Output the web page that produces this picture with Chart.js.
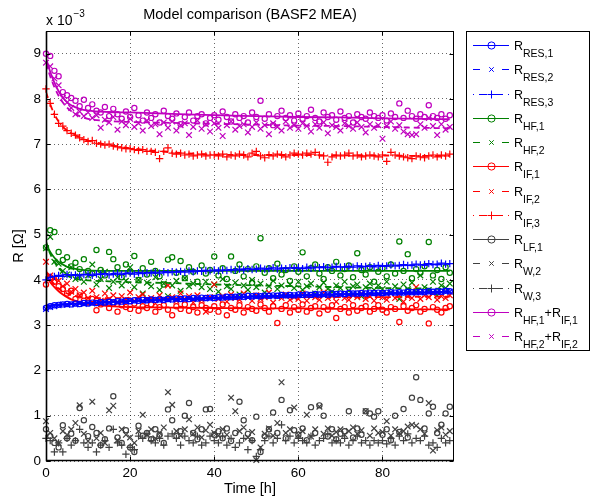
<!DOCTYPE html>
<html>
<head>
<meta charset="utf-8">
<script src="https://cdn.jsdelivr.net/npm/chart.js@4.4.1/dist/chart.umd.min.js"></script>
<style>
  html, body { margin: 0; padding: 0; background: #fff; }
  #wrap { position: relative; width: 599px; height: 498px; }
</style>
</head>
<body>
<div id="wrap"><canvas id="chart" width="599" height="498"></canvas></div>
<script>
const FONT = '"Liberation Sans", Arial, Helvetica, sans-serif'

const chartTitle = 'Model comparison (BASF2 MEA)'
const xTitle = 'Time [h]'
const yTitle = 'R [\u03A9]'
const xTicks = [0, 20, 40, 60, 80]
const yTicks = [0, 1, 2, 3, 4, 5, 6, 7, 8, 9]

// measurement times [h]
const hours = [
  0, 1, 2, 3, 4, 5, 6, 7, 8, 9,
  10, 11, 12, 13, 14, 15, 16, 17, 18, 19,
  20, 21, 22, 23, 24, 25, 26, 27, 28, 29,
  30, 31, 32, 33, 34, 35, 36, 37, 38, 39,
  40, 41, 42, 43, 44, 45, 46, 47, 48, 49,
  50, 51, 52, 53, 54, 55, 56, 57, 58, 59,
  60, 61, 62, 63, 64, 65, 66, 67, 68, 69,
  70, 71, 72, 73, 74, 75, 76, 77, 78, 79,
  80, 81, 82, 83, 84, 85, 86, 87, 88, 89,
  90, 91, 92, 93, 94, 95, 96
]

// measured resistances (x 1e-3 Ohm)
const rRes1 = [
  3.38, 3.42, 3.44, 3.45, 3.46, 3.47, 3.46, 3.48, 3.47, 3.49,
  3.48, 3.50, 3.49, 3.51, 3.50, 3.52, 3.51, 3.53, 3.52, 3.54,
  3.53, 3.55, 3.54, 3.56, 3.55, 3.57, 3.56, 3.57, 3.56, 3.58,
  3.57, 3.59, 3.58, 3.59, 3.58, 3.60, 3.59, 3.61, 3.60, 3.61,
  3.60, 3.62, 3.61, 3.63, 3.62, 3.63, 3.64, 3.63, 3.65, 3.64,
  3.65, 3.64, 3.66, 3.65, 3.66, 3.65, 3.67, 3.66, 3.67, 3.66,
  3.68, 3.67, 3.68, 3.67, 3.69, 3.68, 3.69, 3.68, 3.70, 3.69,
  3.70, 3.69, 3.71, 3.70, 3.70, 3.71, 3.70, 3.72, 3.71, 3.72,
  3.71, 3.72, 3.73, 3.72, 3.73, 3.72, 3.74, 3.73, 3.73, 3.74,
  3.73, 3.75, 3.74, 3.75, 3.74, 3.76, 3.75
]
const rRes2 = [
  3.36, 3.40, 3.42, 3.44, 3.46, 3.45, 3.47, 3.46, 3.48, 3.47,
  3.49, 3.48, 3.50, 3.49, 3.51, 3.50, 3.52, 3.51, 3.53, 3.52,
  3.54, 3.53, 3.55, 3.54, 3.56, 3.55, 3.56, 3.55, 3.57, 3.56,
  3.58, 3.57, 3.58, 3.57, 3.59, 3.58, 3.60, 3.59, 3.60, 3.59,
  3.61, 3.60, 3.61, 3.62, 3.61, 3.63, 3.62, 3.63, 3.62, 3.64,
  3.63, 3.64, 3.65, 3.64, 3.65, 3.64, 3.66, 3.65, 3.66, 3.65,
  3.67, 3.66, 3.67, 3.66, 3.68, 3.67, 3.67, 3.68, 3.67, 3.69,
  3.68, 3.69, 3.68, 3.70, 3.69, 3.70, 3.69, 3.71, 3.70, 3.70,
  3.71, 3.70, 3.72, 3.71, 3.72, 3.71, 3.73, 3.72, 3.72, 3.73,
  3.72, 3.74, 3.73, 3.74, 3.73, 3.75, 3.74
]
const rRes3 = [
  4.00, 4.06, 4.08, 4.10, 4.08, 4.12, 4.10, 4.11, 4.09, 4.12,
  4.12, 4.10, 4.13, 4.12, 4.14, 4.11, 4.13, 4.15, 4.12, 4.14,
  4.15, 4.13, 4.16, 4.14, 4.16, 4.15, 4.17, 4.15, 4.18, 4.16,
  4.18, 4.17, 4.19, 4.17, 4.20, 4.18, 4.20, 4.19, 4.21, 4.20,
  4.22, 4.20, 4.22, 4.21, 4.23, 4.22, 4.24, 4.22, 4.25, 4.23,
  4.24, 4.26, 4.24, 4.25, 4.27, 4.24, 4.26, 4.25, 4.27, 4.26,
  4.27, 4.25, 4.28, 4.26, 4.28, 4.27, 4.29, 4.27, 4.28, 4.30,
  4.28, 4.29, 4.30, 4.28, 4.31, 4.29, 4.30, 4.31, 4.29, 4.32,
  4.30, 4.31, 4.33, 4.31, 4.32, 4.34, 4.32, 4.33, 4.35, 4.33,
  4.34, 4.36, 4.34, 4.35, 4.37, 4.35, 4.36
]
const rHf1 = [
  4.72, 5.10, 5.06, 4.62, 4.44, 4.50, 4.30, 4.38, 4.24, 4.46,
  4.20, 4.14, 4.66, 4.22, 4.10, 4.62, 4.46, 4.28, 4.06, 4.34,
  4.18, 4.53, 4.00, 4.26, 4.12, 4.40, 4.20, 4.08, 3.90, 4.45,
  4.50, 4.16, 4.42, 4.04, 4.28, 4.18, 3.96, 4.32, 4.14, 4.22,
  4.52, 4.10, 4.26, 4.02, 4.52, 4.20, 4.34, 4.08, 4.24, 3.94,
  4.30, 4.92, 4.16, 4.26, 4.04, 4.36, 4.12, 4.22, 3.98, 4.30,
  4.18, 4.61, 4.08, 4.26, 4.34, 4.14, 4.02, 4.28, 4.20, 4.40,
  4.10, 4.24, 4.32, 4.06, 4.59, 4.22, 4.12, 4.28, 3.96, 4.18,
  4.26, 4.08, 4.34, 4.14, 4.85, 4.20, 4.57, 4.04, 4.24, 4.16,
  4.30, 4.84, 4.10, 4.22, 4.02, 4.28, 4.16
]
const rHf2 = [
  4.70, 4.95, 4.40, 4.36, 4.20, 4.12, 4.28, 4.02, 4.08, 3.96,
  4.10, 4.34, 3.90, 4.02, 4.18, 3.82, 3.96, 4.06, 3.88, 3.98,
  4.28, 3.84, 4.00, 3.70, 3.94, 3.86, 4.06, 3.78, 3.92, 3.64,
  3.88, 3.98, 3.76, 4.04, 3.86, 3.92, 3.58, 3.84, 3.96, 3.80,
  3.90, 3.74, 4.02, 3.86, 3.80, 3.94, 3.68, 3.88, 3.78, 4.00,
  3.84, 3.92, 3.72, 3.86, 3.98, 3.80, 3.88, 3.66, 3.90, 3.82,
  3.96, 3.78, 3.86, 3.92, 3.70, 3.84, 3.94, 3.80, 3.74, 3.88,
  3.82, 3.96, 3.76, 3.86, 3.90, 3.64, 3.84, 3.92, 3.78, 3.88,
  3.80, 3.96, 3.72, 3.86, 3.58, 3.90, 3.80, 3.94, 3.74, 4.10,
  3.84, 3.78, 3.96, 3.66, 3.88, 3.82, 3.92
]
const rIf1 = [
  3.90, 4.06, 3.96, 3.86, 3.80, 3.70, 3.76, 3.58, 3.66, 3.54,
  3.50, 3.58, 3.33, 3.46, 3.52, 3.38, 3.48, 3.30, 3.44, 3.40,
  3.36, 3.48, 3.32, 3.42, 3.38, 3.46, 3.30, 3.40, 3.44, 3.34,
  3.22, 3.42, 3.36, 3.46, 3.32, 3.40, 3.28, 3.44, 3.38, 3.34,
  3.42, 3.30, 3.46, 3.22, 3.38, 3.34, 3.44, 3.28, 3.40, 3.36,
  3.32, 3.46, 3.38, 3.30, 3.42, 3.05, 3.36, 3.44, 3.28, 3.40,
  3.34, 3.46, 3.30, 3.38, 3.42, 3.26, 3.40, 3.34, 3.44, 3.16,
  3.36, 3.40, 3.28, 3.44, 3.32, 3.38, 3.42, 3.30, 3.36, 3.44,
  3.34, 3.28, 3.40, 3.36, 3.07, 3.42, 3.32, 3.38, 3.44, 3.30,
  3.36, 3.04, 3.40, 3.34, 3.28, 3.38, 3.42
]
const rIf2 = [
  4.40, 4.10, 4.02, 3.98, 3.86, 3.92, 3.74, 3.80, 3.66, 3.72,
  3.60, 3.76, 3.62, 3.54, 3.70, 3.58, 3.66, 3.50, 3.64, 3.56,
  3.72, 3.54, 3.62, 3.68, 3.56, 3.60, 3.48, 3.66, 3.58, 3.88,
  3.62, 3.54, 3.70, 3.58, 3.64, 3.50, 3.66, 3.56, 3.30, 3.62,
  3.90, 3.58, 3.64, 3.52, 3.68, 3.60, 3.56, 3.70, 3.62, 3.54,
  3.66, 3.58, 3.62, 3.72, 3.50, 3.64, 3.60, 3.68, 3.56, 3.62,
  3.58, 3.70, 3.54, 3.66, 3.62, 3.56, 3.72, 3.60, 3.64, 3.52,
  3.68, 3.60, 3.56, 3.66, 3.62, 3.70, 3.58, 3.64, 3.54, 3.68,
  3.62, 3.56, 3.70, 3.60, 3.66, 3.52, 3.64, 3.60, 3.84, 3.58,
  3.66, 3.62, 3.70, 3.56, 3.64, 3.60, 3.66
]
const rIf3 = [
  8.22, 7.90, 7.66, 7.46, 7.40, 7.30, 7.24, 7.20, 7.14, 7.10,
  7.06, 7.08, 7.02, 7.00, 6.98, 7.00, 6.96, 6.94, 6.92, 6.90,
  6.90, 6.88, 6.86, 6.88, 6.84, 6.84, 6.82, 6.68, 6.84, 6.92,
  6.80, 6.78, 6.80, 6.76, 6.78, 6.74, 6.76, 6.78, 6.74, 6.76,
  6.76, 6.74, 6.78, 6.72, 6.76, 6.74, 6.78, 6.76, 6.72, 6.80,
  6.84, 6.74, 6.70, 6.76, 6.74, 6.78, 6.76, 6.72, 6.76, 6.80,
  6.78, 6.76, 6.80, 6.78, 6.82, 6.76, 6.74, 6.60, 6.72, 6.76,
  6.74, 6.76, 6.80, 6.74, 6.76, 6.72, 6.74, 6.76, 6.74, 6.72,
  6.76, 6.62, 6.82, 6.76, 6.74, 6.72, 6.70, 6.68, 6.74, 6.72,
  6.70, 6.74, 6.76, 6.72, 6.76, 6.74, 6.78
]
const rLf1 = [
  0.70, 0.55, 0.40, 0.30, 0.79, 0.50, 0.60, 0.45, 1.17, 0.90,
  0.55, 0.75, 0.62, 0.35, 0.48, 0.72, 1.43, 0.52, 0.40, 0.68,
  0.30, 0.20, 0.78, 0.56, 0.62, 0.48, 0.70, 0.58, 0.40, 1.14,
  0.90, 0.55, 0.66, 1.00, 1.28, 0.62, 0.48, 0.70, 1.14, 1.15,
  0.58, 0.66, 0.50, 0.72, 0.44, 0.62, 1.31, 0.90, 0.60, 0.46,
  0.98, 0.20, 0.55, 0.70, 1.07, 0.62, 1.35, 0.50, 1.12, 0.68,
  0.58, 0.72, 0.46, 1.19, 0.62, 1.23, 1.00, 0.54, 0.70, 0.48,
  0.60, 0.66, 1.10, 0.52, 0.72, 0.58, 1.10, 1.05, 0.98, 1.10,
  0.58, 0.70, 0.46, 1.00, 0.64, 1.15, 0.52, 1.40, 1.85, 1.35,
  0.72, 1.05, 1.20, 0.62, 0.80, 1.05, 1.20
]
const rW2 = [
  0.88, 0.62, 0.50, 0.40, 0.66, 0.58, 0.70, 0.84, 1.23, 0.60,
  0.44, 1.31, 0.50, 0.62, 0.40, 1.12, 1.22, 0.46, 0.70, 0.58,
  0.52, 0.40, 0.66, 1.02, 0.58, 0.70, 0.50, 0.62, 0.74, 1.52,
  1.24, 0.66, 0.56, 0.70, 0.92, 0.60, 0.74, 0.52, 0.68, 0.80,
  0.62, 0.56, 0.70, 0.58, 1.40, 1.10, 0.66, 0.74, 0.52, 0.64,
  0.02, 0.30, 0.60, 0.72, 0.56, 0.84, 1.74, 0.62, 0.70, 1.18,
  0.58, 0.66, 1.02, 0.54, 0.70, 1.20, 0.60, 0.72, 0.56, 0.64,
  0.70, 0.58, 0.66, 0.74, 0.60, 0.68, 1.10, 0.56, 0.72, 0.62,
  0.64, 0.88, 0.56, 0.70, 0.62, 0.66, 0.76, 0.80, 0.78, 0.70,
  0.60, 1.28, 0.23, 0.68, 0.74, 0.58, 0.66
]
const rW3 = [
  0.50, 0.45, 0.20, 0.40, 0.20, 0.50, 0.35, 0.45, 0.70, 0.40,
  0.30, 0.40, 0.20, 0.35, 0.45, 0.30, 0.70, 0.40, 0.35, 0.15,
  0.30, 0.25, 0.55, 0.50, 0.60, 0.45, 0.40, 0.50, 0.35, 0.55,
  0.60, 0.50, 0.35, 0.55, 0.45, 0.40, 0.55, 0.35, 0.40, 0.55,
  0.45, 0.40, 0.55, 0.35, 0.50, 0.30, 0.40, 0.50, 0.25, 0.45,
  0.10, 0.25, 0.45, 0.55, 0.40, 0.50, 0.80, 0.45, 0.55, 0.40,
  0.50, 0.45, 0.40, 0.55, 0.35, 0.45, 0.50, 0.60, 0.40, 0.45,
  0.40, 0.50, 0.35, 0.45, 0.55, 0.40, 0.45, 0.35, 0.45, 0.40,
  0.45, 0.38, 0.50, 0.35, 0.55, 0.45, 0.60, 0.40, 0.50, 0.45,
  0.55, 0.35, 0.40, 0.30, 0.50, 0.40, 0.45
]
const rHfIf1 = [
  9.00, 8.95, 8.62, 8.50, 8.15, 8.08, 8.02, 7.96, 7.84, 7.98,
  7.80, 7.88, 7.74, 7.70, 7.82, 7.62, 7.78, 7.66, 7.56, 7.72,
  7.60, 7.80, 7.64, 7.52, 7.70, 7.58, 7.66, 7.48, 7.74, 7.62,
  7.56, 7.68, 7.44, 7.60, 7.70, 7.52, 7.62, 7.66, 7.46, 7.58,
  7.64, 7.54, 7.72, 7.60, 7.50, 7.66, 7.58, 7.62, 7.48, 7.70,
  7.60, 7.96, 7.56, 7.66, 7.42, 7.62, 7.74, 7.58, 7.64, 7.52,
  7.68, 7.56, 7.62, 7.76, 7.58, 7.50, 7.70, 7.60, 7.64, 7.54,
  7.72, 7.58, 7.62, 7.48, 7.66, 7.60, 7.56, 7.70, 7.62, 7.58,
  7.64, 7.52, 7.68, 7.60, 7.90, 7.58, 7.74, 7.62, 7.56, 7.66,
  7.60, 7.86, 7.62, 7.58, 7.66, 7.56, 7.64
]
const rHfIf2 = [
  8.80, 8.72, 8.45, 8.30, 8.02, 7.92, 7.80, 7.66, 7.72, 7.62,
  7.70, 7.58, 7.64, 7.36, 7.54, 7.48, 7.60, 7.32, 7.50, 7.42,
  7.56, 7.38, 7.46, 7.30, 7.52, 7.40, 7.44, 7.22, 7.48, 7.36,
  7.50, 7.30, 7.42, 7.46, 7.20, 7.38, 7.52, 7.34, 7.44, 7.28,
  7.46, 7.36, 7.18, 7.42, 7.50, 7.32, 7.40, 7.44, 7.26, 7.38,
  7.48, 7.34, 7.42, 7.22, 7.46, 7.38, 7.30, 7.50, 7.36, 7.42,
  7.34, 7.46, 7.40, 7.28, 7.44, 7.36, 7.48, 7.24, 7.42, 7.38,
  7.30, 7.46, 7.40, 7.34, 7.48, 7.38, 7.26, 7.44, 7.36, 7.42,
  7.12, 7.40, 7.50, 7.34, 7.42, 7.28, 7.22, 7.20, 7.22, 7.44,
  7.36, 7.58, 7.40, 7.20, 7.44, 7.32, 7.38
]

// model fits, sampled at fitHours
const fitHours = [0, 1, 2, 3, 4, 5, 6, 8, 10, 15, 20, 30, 40, 50, 60, 70, 80, 90, 96]
const fitRes1 = [3.42, 3.44, 3.45, 3.46, 3.46, 3.47, 3.47, 3.48, 3.49, 3.51, 3.53, 3.57, 3.60, 3.63, 3.66, 3.68, 3.70, 3.72, 3.74]
const fitRes2 = [3.38, 3.41, 3.43, 3.44, 3.45, 3.46, 3.47, 3.48, 3.49, 3.51, 3.53, 3.57, 3.60, 3.63, 3.66, 3.68, 3.70, 3.72, 3.74]
const fitRes3 = [4.02, 4.06, 4.08, 4.09, 4.10, 4.10, 4.11, 4.11, 4.12, 4.13, 4.15, 4.18, 4.21, 4.24, 4.27, 4.29, 4.31, 4.33, 4.35]
const fitHf1 = [4.80, 4.62, 4.49, 4.40, 4.34, 4.29, 4.26, 4.23, 4.21, 4.20, 4.20, 4.20, 4.20, 4.20, 4.20, 4.20, 4.20, 4.20, 4.20]
const fitHf2 = [4.85, 4.58, 4.40, 4.26, 4.17, 4.10, 4.06, 4.01, 3.99, 3.97, 3.95, 3.93, 3.90, 3.88, 3.86, 3.84, 3.82, 3.81, 3.80]
const fitIf1 = [4.10, 3.95, 3.84, 3.75, 3.68, 3.62, 3.57, 3.51, 3.47, 3.42, 3.40, 3.39, 3.38, 3.37, 3.37, 3.36, 3.36, 3.35, 3.35]
const fitIf2 = [4.20, 4.02, 3.90, 3.81, 3.75, 3.70, 3.67, 3.63, 3.61, 3.60, 3.60, 3.60, 3.61, 3.61, 3.62, 3.62, 3.62, 3.63, 3.63]
const fitIf3 = [8.15, 7.88, 7.66, 7.50, 7.38, 7.30, 7.24, 7.15, 7.08, 6.98, 6.91, 6.82, 6.77, 6.76, 6.76, 6.75, 6.75, 6.74, 6.74]
const fitHfIf1 = [8.90, 8.60, 8.36, 8.17, 8.03, 7.93, 7.86, 7.78, 7.74, 7.71, 7.70, 7.67, 7.64, 7.62, 7.60, 7.59, 7.57, 7.56, 7.55]
const fitHfIf2 = [8.80, 8.50, 8.26, 8.07, 7.92, 7.81, 7.73, 7.62, 7.56, 7.51, 7.49, 7.47, 7.45, 7.43, 7.41, 7.40, 7.38, 7.36, 7.35]

const legendSubs = ['RES,1', 'RES,2', 'RES,3', 'HF,1', 'HF,2', 'IF,1', 'IF,2', 'IF,3', 'LF,1', 'W,2', 'W,3', 'HF,1+IF,1', 'HF,2+IF,2']

const BLUE = '#0000ff'
const GREEN = '#008000'
const RED = '#ff0000'
const GRAY = '#404040'
const MAGENTA = '#bf00bf'
const SOLID = []
const DASHED = [6, 4]
const DASHDOT = [6, 3, 1, 3]

// one entry per legend row: measured data + (optional) fitted model
const series = [
  { data: rRes1, fit: fitRes1, color: BLUE, dash: SOLID, marker: 'circle' },
  { data: rRes2, fit: fitRes2, color: BLUE, dash: DASHED, marker: 'crossRot' },
  { data: rRes3, fit: fitRes3, color: BLUE, dash: DASHDOT, marker: 'cross' },
  { data: rHf1, fit: fitHf1, color: GREEN, dash: SOLID, marker: 'circle' },
  { data: rHf2, fit: fitHf2, color: GREEN, dash: DASHED, marker: 'crossRot' },
  { data: rIf1, fit: fitIf1, color: RED, dash: SOLID, marker: 'circle' },
  { data: rIf2, fit: fitIf2, color: RED, dash: DASHED, marker: 'crossRot' },
  { data: rIf3, fit: fitIf3, color: RED, dash: DASHDOT, marker: 'cross' },
  { data: rLf1, fit: null, color: GRAY, dash: SOLID, marker: 'circle' },
  { data: rW2, fit: null, color: GRAY, dash: DASHED, marker: 'crossRot' },
  { data: rW3, fit: null, color: GRAY, dash: DASHDOT, marker: 'cross' },
  { data: rHfIf1, fit: fitHfIf1, color: MAGENTA, dash: SOLID, marker: 'circle' },
  { data: rHfIf2, fit: fitHfIf2, color: MAGENTA, dash: DASHED, marker: 'crossRot' }
]

const markerRadius = { circle: 2.6, crossRot: 4, cross: 3.7 }
const toPoints = (xs, ys) => xs.map((x, i) => ({ x, y: ys[i] }))

function markerSet(s) {
  return {
    type: 'scatter',
    data: toPoints(hours, s.data),
    showLine: false,
    pointStyle: s.marker,
    pointRadius: markerRadius[s.marker],
    borderColor: s.color,
    backgroundColor: 'rgba(0,0,0,0)',
    borderWidth: 1.2,
    clip: false
  }
}

function fitSet(s) {
  return {
    type: 'line',
    data: toPoints(fitHours, s.fit),
    showLine: true,
    pointRadius: 0,
    borderColor: s.color,
    borderWidth: 1.8,
    borderDash: s.dash,
    cubicInterpolationMode: 'monotone',
    fill: false
  }
}

// first dataset ends up on top
const blueIdx = [2, 1, 0]
const restIdx = [7, 6, 5, 4, 3, 12, 11, 10, 9, 8]
const datasets = [
  ...blueIdx.map(i => markerSet(series[i])),
  ...series.filter(s => s.fit).map(fitSet),
  ...restIdx.map(i => markerSet(series[i]))
]

const framePlugin = {
  id: 'matlabFrame',
  afterDraw(chart) {
    const { ctx, chartArea: a, scales: { x, y } } = chart
    ctx.save()
    ctx.strokeStyle = '#000'
    ctx.lineWidth = 1
    ctx.setLineDash([])
    const L = Math.round(a.left) + 0.5
    const R = Math.round(a.right) - 0.5
    const T = Math.round(a.top) + 0.5
    const B = Math.round(a.bottom) - 0.5
    ctx.strokeRect(L, T, R - L, B - T)
    // heavier left and bottom axis lines
    ctx.beginPath()
    ctx.moveTo(L, T); ctx.lineTo(L, B); ctx.lineTo(R, B)
    ctx.lineWidth = 1.6
    ctx.stroke()

    ctx.lineWidth = 1
    ctx.beginPath()
    xTicks.forEach(v => {
      const px = Math.round(x.getPixelForValue(v)) + 0.5
      ctx.moveTo(px, B); ctx.lineTo(px, B - 4)
      ctx.moveTo(px, T); ctx.lineTo(px, T + 4)
    })
    yTicks.forEach(v => {
      const py = Math.round(y.getPixelForValue(v)) + 0.5
      ctx.moveTo(L, py); ctx.lineTo(L + 4, py)
      ctx.moveTo(R, py); ctx.lineTo(R - 4, py)
    })
    ctx.stroke()

    // title and exponent
    ctx.fillStyle = '#000'
    ctx.textBaseline = 'alphabetic'
    ctx.textAlign = 'center'
    ctx.font = `14.5px ${FONT}`
    ctx.fillText(chartTitle, (a.left + a.right) / 2, 19)
    ctx.textAlign = 'left'
    ctx.font = `14px ${FONT}`
    ctx.fillText('x 10', a.left, 25)
    const w10 = ctx.measureText('x 10').width
    ctx.font = `10px ${FONT}`
    ctx.fillText('\u22123', a.left + w10 + 1, 17)

    drawLegend(ctx)
    ctx.restore()
  }
}

function drawLegend(ctx) {
  const box = { x: 466.5, y: 31.5, w: 123, h: 319 }
  ctx.fillStyle = '#fff'
  ctx.fillRect(box.x, box.y, box.w, box.h)
  ctx.strokeStyle = '#000'
  ctx.lineWidth = 1
  ctx.strokeRect(box.x, box.y, box.w, box.h)

  const x0 = 473, x1 = 509, xm = 491.5
  series.forEach((s, i) => {
    const yy = Math.round(45 + i * 24.25) + 0.5
    ctx.strokeStyle = s.color
    ctx.lineWidth = 1
    ctx.setLineDash([])
    ctx.beginPath()
    if (s.dash === SOLID) {
      ctx.moveTo(x0, yy); ctx.lineTo(x1, yy)
    } else if (s.dash === DASHED) {
      ctx.moveTo(x0, yy); ctx.lineTo(x0 + 7, yy)
      ctx.moveTo(x1 - 7, yy); ctx.lineTo(x1, yy)
    } else {
      ctx.moveTo(x0, yy); ctx.lineTo(x0 + 1, yy)
      ctx.moveTo(x0 + 6, yy); ctx.lineTo(x0 + 14, yy)
      ctx.moveTo(x1 - 14, yy); ctx.lineTo(x1 - 6, yy)
      ctx.moveTo(x1 - 1, yy); ctx.lineTo(x1, yy)
    }
    ctx.stroke()
    ctx.fillStyle = 'rgba(0,0,0,0)'
    const rad = s.marker === 'circle' ? 3.6 : s.marker === 'crossRot' ? 3.2 : 4
    Chart.helpers.drawPoint(ctx, { pointStyle: s.marker, radius: rad, borderWidth: s.marker === 'crossRot' ? 1.6 : 1.2, rotation: 0 }, xm, yy)

    // label: R with subscripts
    ctx.fillStyle = '#000'
    let tx = 514
    legendSubs[i].split('+').forEach((sub, k) => {
      ctx.font = `12.5px ${FONT}`
      const main = k === 0 ? 'R' : '+R'
      ctx.fillText(main, tx, yy + 4)
      tx += ctx.measureText(main).width
      ctx.font = `10.5px ${FONT}`
      ctx.fillText(sub, tx, yy + 11)
      tx += ctx.measureText(sub).width
    })
  })
}

new Chart(document.getElementById('chart'), {
  type: 'scatter',
  data: { datasets },
  plugins: [framePlugin],
  options: {
    responsive: false,
    animation: false,
    events: [],
    layout: { padding: { top: 31, right: 145, left: 0, bottom: 0 } },
    plugins: {
      legend: { display: false },
      title: { display: false },
      tooltip: { enabled: false }
    },
    scales: {
      x: {
        type: 'linear',
        min: 0,
        max: 97,
        afterBuildTicks: s => { s.ticks = xTicks.map(v => ({ value: v })) },
        afterFit: s => { s.height = 37 },
        grid: { color: 'rgba(0,0,0,0.6)', lineWidth: 1, drawTicks: false },
        border: { display: false, dash: [1, 3] },
        ticks: { color: '#000', font: { family: FONT, size: 13.5 }, padding: 4, maxRotation: 0 },
        title: { display: true, text: xTitle, color: '#000', font: { family: FONT, size: 14.5 }, padding: { top: 0, bottom: 0 } }
      },
      y: {
        type: 'linear',
        min: 0,
        max: 9.5,
        afterBuildTicks: s => { s.ticks = yTicks.map(v => ({ value: v })) },
        afterFit: s => { s.width = 46 },
        grid: { color: 'rgba(0,0,0,0.6)', lineWidth: 1, drawTicks: false },
        border: { display: false, dash: [1, 3] },
        ticks: { color: '#000', font: { family: FONT, size: 13.5 }, padding: 5 },
        title: { display: true, text: yTitle, color: '#000', font: { family: FONT, size: 14.5 }, padding: { top: 10, bottom: 0 } }
      }
    }
  }
})
</script>
</body>
</html>
